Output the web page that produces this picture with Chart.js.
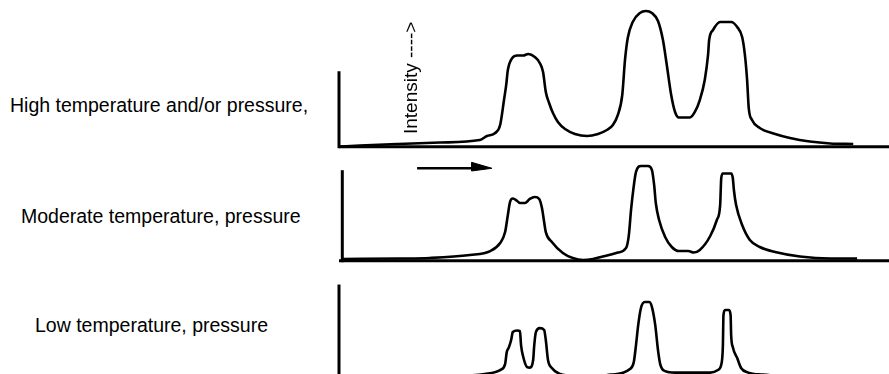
<!DOCTYPE html>
<html><head><meta charset="utf-8">
<script src="https://cdn.jsdelivr.net/npm/chart.js"></script>
<style>
html,body{margin:0;padding:0;background:#fff;}
#wrap{position:relative;width:889px;height:374px;overflow:hidden;background:#fff;}
canvas{position:absolute;}
.lbl{position:absolute;font-family:"Liberation Sans",Arial,Helvetica,sans-serif;font-size:19.5px;line-height:19.5px;white-space:nowrap;color:#000;}
#ylab{font-size:19px;line-height:19px;transform:rotate(-90deg);transform-origin:0 0;}
</style></head><body>
<div id="wrap">
<canvas id="c0"></canvas><canvas id="c1"></canvas><canvas id="c2"></canvas>
<div class="lbl" id="l0"></div><div class="lbl" id="l1"></div><div class="lbl" id="l2"></div>
<div class="lbl" id="ylab"></div>
</div>
<script>
// ---------- data ----------
const panelLabels = ["High temperature and/or pressure,", "Moderate temperature, pressure", "Low temperature, pressure"];
const axisTitle = "Intensity ---->";

// High temperature and/or pressure spectrum (x: relative position 0-100, y: relative intensity)
const highX = [0,3.8,10.5,18.4,25.6,26.9,28.4,29.3,30.0,30.4,30.7,31.5,32.4,33.5,34.4,35.6,36.5,37.1,37.6,38.2,38.9,39.8,41.1,42.9,45.1,47.1,48.7,49.8,50.7,51.5,52.0,52.5,53.4,54.7,55.8,56.9,58.0,58.9,59.6,60.4,61.1,61.8,63.8,64.7,65.6,66.5,67.1,67.3,68.0,69.3,71.3,72.4,73.3,73.8,74.2,74.5,75.1,76.5,79.3,82.0,85.6,89.3,93.5];
const highY = [0,0.9,2.0,3.1,4.9,7.9,10.1,16.0,34.4,45.5,56.5,65.4,67.2,67.2,68.3,66.1,61.7,55.0,40.3,32.2,24.8,18.2,13.0,9.4,7.9,9.4,12.3,16.0,23.4,38.1,63.9,80.1,91.9,98.5,100,98.5,92.6,78.6,60.2,38.1,25.6,21.5,21.5,25.6,34.4,49.2,67.6,78.6,86.0,91.9,91.9,88.2,80.8,67.6,49.2,28.5,19.7,13.8,9.4,6.4,3.8,2.4,2.0];

// Moderate temperature, pressure spectrum
const modX = [0.7,11.1,16.5,23.8,27.5,29.3,30.2,30.7,31.1,31.6,32.4,32.9,33.8,34.7,35.6,36.4,36.9,37.3,37.6,38.7,40.7,42.5,44.4,46.2,48.4,50.7,52.2,52.7,53.1,53.5,54.0,54.9,56.2,56.9,57.3,57.6,58.2,59.3,60.5,61.8,63.5,64.5,65.6,67.5,68.7,69.3,69.5,69.8,71.3,71.6,71.8,72.2,73.3,74.7,76.5,79.3,83.8,89.3,94.2];
const modY = [1.3,1.6,2.0,4.2,7.1,13.0,21.1,33.7,43.3,45.8,44.0,42.5,42.5,45.5,46.9,45.5,38.8,28.5,21.1,13.8,5.7,2.0,0.5,1.3,3.5,6.0,9.4,18.9,37.4,52.0,65.4,69.8,69.8,66.8,55.8,42.5,30.0,17.5,10.1,7.1,7.1,6.0,7.9,18.2,30.0,41.0,60.9,64.3,64.3,60.9,52.1,41.0,26.3,15.3,10.1,6.4,3.1,1.6,1.6];

// Low temperature, pressure spectrum
const lowX = [0,20,26.5,29.3,30.2,30.5,30.9,31.3,31.6,32.4,32.9,33.1,33.5,34.2,34.7,35.3,35.5,35.8,36.5,37.3,37.6,38.0,38.7,40.2,42,46,49.5,52.9,53.6,54.0,54.4,54.9,55.6,56.4,56.9,57.5,58.0,58.4,59.3,61.1,63.8,67.5,68.9,69.6,69.8,69.9,70.2,70.9,71.2,71.3,71.6,72.4,73.1,74.4,77,82,100];
const lowY = [0,0,1.5,4.4,8.8,17.6,21.3,26.5,32.4,33.5,33.1,22.8,14.0,6.6,6.2,11.8,22.8,32.4,35.3,33.9,26.5,11.8,5.9,1.5,0.3,0,1.0,5.1,10.3,22.8,37.5,50.1,54.5,54.5,50.8,37.5,19.1,8.8,3.6,2.5,2.5,2.5,4.4,10.3,22.8,44.9,48.6,48.6,44.9,30.2,21.3,13.2,5.9,2.5,1.0,0,0];

// axis extents (relative units)
const axisStartX = [0, 0.6, 0];
const axisHeights = [54.5, 65.6, 66.3];
const xEnd = 100;
// direction arrow (moderate panel)
const arrowX = [14.2, 25.0];
const arrowHeadX = [24.1, 27.8, 24.1];
const arrowHeadY = [72.5, 68.1, 66.1];
const arrowY = 68.1;

// ---------- layout ----------
const AXIS_PX = 339, PX_PER_X = 5.5, PX_PER_V = 1.357;
const CANVAS_LEFT = 329, CANVAS_W = 560;
const panels = [
  {top:0, height:155, base:146.7, labelLeft:10, labelTop:95.5},
  {top:155, height:115, base:260.7, labelLeft:21, labelTop:206.8},
  {top:270, height:104, base:376, labelLeft:35, labelTop:316.2}
];
const series = [[highX, highY],[modX, modY],[lowX, lowY]];
const pts = (xs, ys) => xs.map((x,i)=>({x:x, y:ys[i]}));

panels.forEach((p, i) => {
  const cv = document.getElementById('c'+i);
  cv.width = CANVAS_W; cv.height = p.height;
  cv.style.left = CANVAS_LEFT + 'px'; cv.style.top = p.top + 'px';
  cv.style.width = CANVAS_W + 'px'; cv.style.height = p.height + 'px';
  const xmin = -(AXIS_PX - CANVAS_LEFT) / PX_PER_X;
  const xmax = xmin + CANVAS_W / PX_PER_X;
  const baseRel = p.base - p.top;
  const ymin = (baseRel - p.height) / PX_PER_V;
  const ymax = ymin + p.height / PX_PER_V;
  const ds = [
    {data: pts(series[i][0], series[i][1]), borderColor:'#000', borderWidth:2.6, cubicInterpolationMode:'monotone', clip:false, fill:false},
    {data: [{x:axisStartX[0], y:0},{x:xEnd + 5, y:0}], borderColor:'#000', borderWidth:3, tension:0, clip:false, fill:false},
    {data: [{x:axisStartX[i], y:0},{x:axisStartX[i], y:axisHeights[i]}], borderColor:'#000', borderWidth:3, tension:0, clip:false, fill:false, borderCapStyle:'square'}
  ];
  if (i === 1) {
    ds.push({data: [{x:arrowX[0], y:arrowY},{x:arrowX[1], y:arrowY}], borderColor:'#000', borderWidth:2.4, tension:0, clip:false, fill:false});
    ds.push({data: [{x:arrowHeadX[0], y:arrowHeadY[0]},{x:arrowHeadX[1], y:arrowHeadY[1]},{x:arrowHeadX[2], y:arrowHeadY[2]},{x:arrowHeadX[0], y:arrowHeadY[0]}],
      borderColor:'#000', backgroundColor:'#000', borderWidth:1, tension:0, clip:false, fill:'shape'});
  }
  new Chart(cv, {
    type:'line',
    data:{datasets: ds},
    options:{
      responsive:false, animation:false, events:[],
      layout:{padding:0},
      elements:{point:{radius:0}},
      plugins:{legend:{display:false}, tooltip:{enabled:false}},
      scales:{
        x:{type:'linear', display:false, min:xmin, max:xmax},
        y:{type:'linear', display:false, min:ymin, max:ymax}
      }
    }
  });
  const l = document.getElementById('l'+i);
  l.textContent = panelLabels[i];
  l.style.left = p.labelLeft + 'px'; l.style.top = p.labelTop + 'px';
});
const yl = document.getElementById('ylab');
yl.textContent = axisTitle;
yl.style.left = '401.4px'; yl.style.top = '133.5px';
</script>
</body></html>
